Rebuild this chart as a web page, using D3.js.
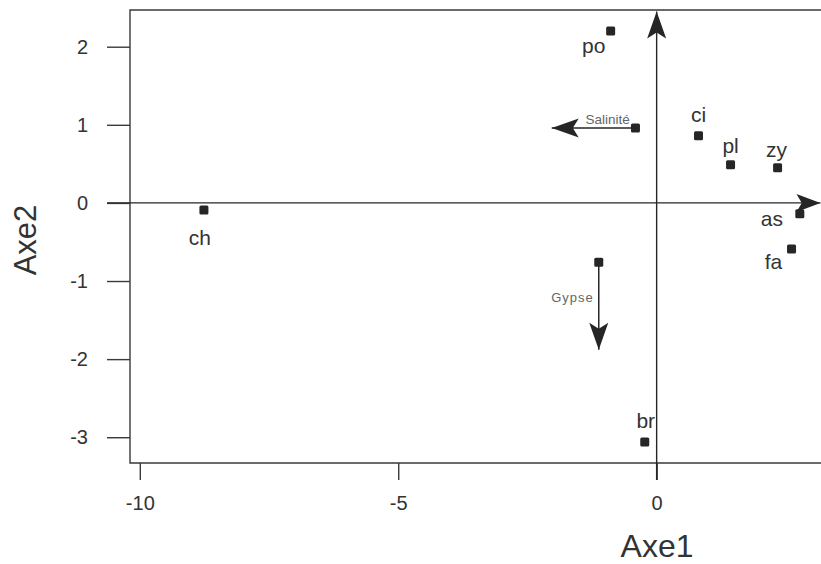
<!DOCTYPE html>
<html>
<meta charset="UTF-8">
<title>Axe1 / Axe2</title>
<script src="https://d3js.org/d3.v7.min.js"></script>
<style>
  body { margin: 0; background: #fff; }
  text { font-family: "Liberation Sans", Arial, sans-serif; }
</style>
<body>
<svg id="ch" width="821" height="564"></svg>
<script>
// sites
var sites = ["po", "ci", "pl", "zy", "as", "fa", "ch", "br"];
var axe1 = [-0.89, 0.81, 1.43, 2.34, 2.77, 2.61, -8.76, -0.23];
var axe2 = [2.20, 0.86, 0.49, 0.45, -0.14, -0.59, -0.09, -3.06];

// variables (arrows)
var variables = ["Salinité", "Gypse"];
var varX0 = [-0.41, -1.12];
var varY0 = [0.96, -0.76];
var varX1 = [-2.03, -1.12];
var varY1 = [0.96, -1.88];

var xTicks = [-10, -5, 0];
var yTicks = [-3, -2, -1, 0, 1, 2];

var svg = d3.select("#ch");
var pLeft = 130, pTop = 10, pBottom = 463, pRight = 821;

var x = d3.scaleLinear().domain([-10.19, 3.18]).range([pLeft, pRight]);
var y = d3.scaleLinear().domain([-3.33, 2.47]).range([pBottom, pTop]);

var ink = "#262626";

// frame (right side is cut off)
svg.append("path")
  .attr("d", "M" + (pRight + 10) + "," + pTop + "H" + pLeft + "V" + pBottom + "H" + (pRight + 10))
  .attr("fill", "none")
  .attr("stroke", "#3a3a3a")
  .attr("stroke-width", 1.4);

// axes
var fmt = function (d) { return d < 0 ? "-" + Math.abs(d) : String(d); };
var yAxis = svg.append("g")
  .attr("transform", "translate(" + pLeft + ",0)")
  .call(d3.axisLeft(y).tickValues(yTicks).tickFormat(fmt).tickSize(23).tickPadding(19));
var xAxis = svg.append("g")
  .attr("transform", "translate(0," + pBottom + ")")
  .call(d3.axisBottom(x).tickValues(xTicks).tickFormat(fmt).tickSize(17).tickPadding(16));
[yAxis, xAxis].forEach(function (g) {
  g.attr("font-size", 20).attr("font-family", "'Liberation Sans', Arial, sans-serif");
  g.select(".domain").remove();
  g.selectAll("line").attr("stroke", "#3a3a3a").attr("stroke-width", 1.4);
  g.selectAll("text").attr("fill", "#333");
});

// axis titles
svg.append("text").attr("x", 657).attr("y", 557).attr("text-anchor", "middle")
  .attr("fill", "#333").style("font-size", "32px").text("Axe1");
svg.append("text").attr("transform", "translate(36,240) rotate(-90)").attr("text-anchor", "middle")
  .attr("fill", "#333").style("font-size", "31px").text("Axe2");

// arrowhead path: tip at (0,0), pointing towards +x
function head(len, hw) {
  return "M0,0L" + (-len) + "," + (-hw) + "L" + (-len * 0.78) + ",0L" + (-len) + "," + hw + "Z";
}
function arrow(x0, y0, x1, y1, len, hw, w) {
  var a = Math.atan2(y1 - y0, x1 - x0) * 180 / Math.PI;
  svg.append("line").attr("x1", x0).attr("y1", y0).attr("x2", x1).attr("y2", y1)
    .attr("stroke", ink).attr("stroke-width", w);
  svg.append("path").attr("d", head(len, hw))
    .attr("transform", "translate(" + x1 + "," + y1 + ") rotate(" + a + ")")
    .attr("fill", ink);
}

// principal axes through the origin
arrow(pLeft - 23, y(0), x(3.17), y(0), 24, 9, 1.4);
arrow(x(0), pBottom + 17, x(0), y(2.45), 27, 9.5, 1.4);

// variable arrows
variables.forEach(function (v, i) {
  arrow(x(varX0[i]), y(varY0[i]), x(varX1[i]), y(varY1[i]), 27, 9.5, 1.5);
  svg.append("rect")
    .attr("x", x(varX0[i]) - 4.5).attr("y", y(varY0[i]) - 4.5)
    .attr("width", 9).attr("height", 9).attr("rx", 1.5).attr("fill", ink);
});
svg.append("text").attr("x", (x(varX0[0]) + x(varX1[0])) / 2 + 14).attr("y", y(varY0[0]) - 4)
  .attr("text-anchor", "middle").attr("fill", "#666").style("font-size", "13.5px").text(variables[0]);
svg.append("text").attr("x", x(varX0[1]) - 5).attr("y", (y(varY0[1]) + y(varY1[1])) / 2 - 4)
  .attr("text-anchor", "end").attr("fill", "#666").style("font-size", "13px")
  .attr("letter-spacing", "1px").text(variables[1]);

// site points
var off = {
  po: [-17, 22], ci: [0, -14], pl: [0, -12], zy: [-1, -11],
  as: [-28, 12], fa: [-18, 20], ch: [-4, 35], br: [1, -14]
};
sites.forEach(function (s, i) {
  var px = x(axe1[i]), py = y(axe2[i]);
  svg.append("rect").attr("x", px - 4.5).attr("y", py - 4.5)
    .attr("width", 9).attr("height", 9).attr("rx", 1.5).attr("fill", ink);
  svg.append("text").attr("x", px + off[s][0]).attr("y", py + off[s][1])
    .attr("text-anchor", "middle").attr("fill", "#333").style("font-size", "21px").text(s);
});
</script>
</body>
</html>
